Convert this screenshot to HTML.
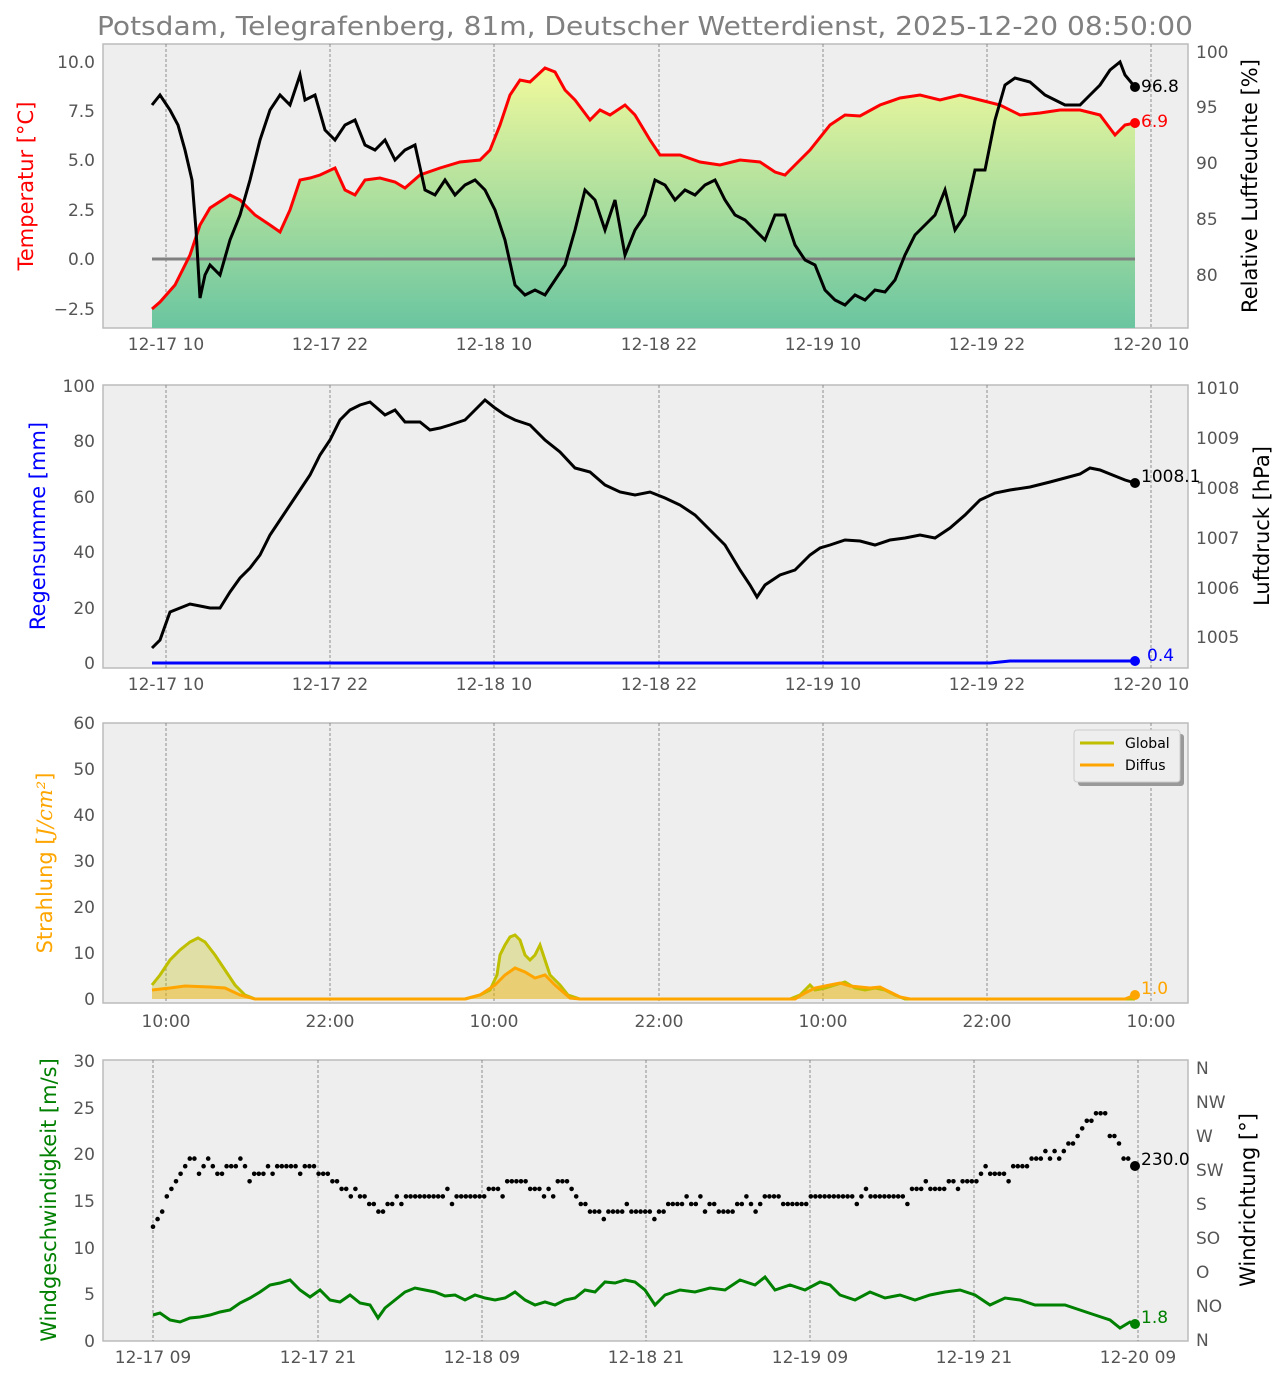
<!DOCTYPE html>
<html><head><meta charset="utf-8"><style>
html,body{margin:0;padding:0;background:#fff;}
svg{display:block;font-family:"DejaVu Sans","Liberation Sans",sans-serif;}
.t{font-size:17px;fill:#555;}
.g{stroke:#777;stroke-width:0.8;stroke-dasharray:3,2;}
</style></head><body>
<svg id="s" width="1288" height="1381" viewBox="0 0 1288 1381">
<defs>
<linearGradient id="tg" gradientUnits="userSpaceOnUse" x1="0" y1="65" x2="0" y2="328">
<stop offset="0" stop-color="#f2fa9c"/><stop offset="1" stop-color="#6ac5a0"/></linearGradient>
</defs>
<text x="97" y="35" textLength="1096" lengthAdjust="spacingAndGlyphs" font-size="26" fill="#808080">Potsdam, Telegrafenberg, 81m, Deutscher Wetterdienst, 2025-12-20 08:50:00</text>

<!-- Panel 1 -->
<rect x="103" y="44" width="1085" height="284" fill="#eeeeee" stroke="#bbb" stroke-width="1.5"/>
<g class="g"><line x1="166" y1="44" x2="166" y2="328"/><line x1="330" y1="44" x2="330" y2="328"/><line x1="494" y1="44" x2="494" y2="328"/><line x1="659" y1="44" x2="659" y2="328"/><line x1="823" y1="44" x2="823" y2="328"/><line x1="987" y1="44" x2="987" y2="328"/><line x1="1151" y1="44" x2="1151" y2="328"/></g>
<polygon fill="url(#tg)" points="152,328 152,309 160,302 175,285 190,255 200,225 210,208 230,195 240,200 255,215 270,225 280,232 290,210 300,180 310,178 320,175 335,168 345,190 355,195 365,180 380,178 395,182 405,188 420,175 440,168 460,162 480,160 490,150 500,125 510,95 520,80 530,82 545,68 555,72 565,90 575,100 590,120 600,110 610,115 625,105 635,115 650,140 660,155 680,155 700,162 720,165 740,160 760,162 775,172 785,175 795,165 810,150 830,125 845,115 860,116 880,105 900,98 920,95 940,100 960,95 980,100 1000,105 1020,115 1040,113 1060,110 1080,110 1100,115 1115,135 1125,125 1135,123 1135,328"/>
<line x1="152" y1="259" x2="1135" y2="259" stroke="#808080" stroke-width="3"/>
<polyline fill="none" stroke="#ff0000" stroke-width="3" points="152,309 160,302 175,285 190,255 200,225 210,208 230,195 240,200 255,215 270,225 280,232 290,210 300,180 310,178 320,175 335,168 345,190 355,195 365,180 380,178 395,182 405,188 420,175 440,168 460,162 480,160 490,150 500,125 510,95 520,80 530,82 545,68 555,72 565,90 575,100 590,120 600,110 610,115 625,105 635,115 650,140 660,155 680,155 700,162 720,165 740,160 760,162 775,172 785,175 795,165 810,150 830,125 845,115 860,116 880,105 900,98 920,95 940,100 960,95 980,100 1000,105 1020,115 1040,113 1060,110 1080,110 1100,115 1115,135 1125,125 1135,123"/>
<polyline fill="none" stroke="#000" stroke-width="3" points="152,105 160,95 170,110 178,125 185,150 192,180 196,230 200,298 205,275 210,265 220,275 230,240 240,215 250,180 260,140 270,110 280,95 290,105 300,75 305,100 315,95 325,130 335,140 345,125 355,120 365,145 375,150 385,140 395,160 405,150 415,145 425,190 435,195 445,180 455,195 465,185 475,180 485,190 495,210 505,240 515,285 525,295 535,290 545,295 555,280 565,265 575,230 585,190 595,200 605,230 615,200 625,255 635,230 645,215 655,180 665,185 675,200 685,190 695,195 705,185 715,180 725,200 735,215 745,220 755,230 765,240 775,215 785,215 795,245 805,260 815,265 825,290 835,300 845,305 855,295 865,300 875,290 885,292 895,280 905,255 915,235 925,225 935,215 945,190 955,230 965,215 975,170 985,170 995,120 1005,85 1015,78 1030,82 1045,95 1055,100 1065,105 1080,105 1090,95 1100,85 1110,70 1120,62 1125,75 1135,87"/>
<circle cx="1135" cy="87" r="5"/><circle cx="1135" cy="123" r="5" fill="#f00"/>
<text x="1141" y="87" font-size="17" dominant-baseline="middle">96.8</text>
<text x="1141" y="122" font-size="17" fill="#f00" dominant-baseline="middle">6.9</text>
<g class="t" text-anchor="end"><text x="95" y="68">10.0</text><text x="95" y="117">7.5</text><text x="95" y="166">5.0</text><text x="95" y="216">2.5</text><text x="95" y="265">0.0</text><text x="95" y="315">−2.5</text></g>
<g class="t"><text x="1196" y="58">100</text><text x="1196" y="113">95</text><text x="1196" y="169">90</text><text x="1196" y="225">85</text><text x="1196" y="281">80</text></g>
<g class="t" text-anchor="middle"><text x="166" y="350">12-17 10</text><text x="330" y="350">12-17 22</text><text x="494" y="350">12-18 10</text><text x="659" y="350">12-18 22</text><text x="823" y="350">12-19 10</text><text x="987" y="350">12-19 22</text><text x="1151" y="350">12-20 10</text></g>
<text transform="translate(33,186) rotate(-90)" text-anchor="middle" font-size="21" fill="#f00">Temperatur [°C]</text>
<text transform="translate(1257,186) rotate(-90)" text-anchor="middle" font-size="21">Relative Luftfeuchte [%]</text>

<!-- Panel 2 -->
<rect x="103" y="385" width="1085" height="283" fill="#eeeeee" stroke="#bbb" stroke-width="1.5"/>
<g class="g"><line x1="166" y1="385" x2="166" y2="668"/><line x1="330" y1="385" x2="330" y2="668"/><line x1="494" y1="385" x2="494" y2="668"/><line x1="659" y1="385" x2="659" y2="668"/><line x1="823" y1="385" x2="823" y2="668"/><line x1="987" y1="385" x2="987" y2="668"/><line x1="1151" y1="385" x2="1151" y2="668"/></g>
<polyline fill="none" stroke="#000" stroke-width="3" points="152,648 160,640 170,612 180,608 190,604 200,606 210,608 220,608 230,592 240,578 250,568 260,555 270,535 280,520 290,505 300,490 310,475 320,455 330,440 340,420 350,410 360,405 370,402 385,415 395,410 405,422 420,422 430,430 440,428 450,425 465,420 475,410 485,400 495,408 505,415 515,420 530,425 545,440 560,452 575,468 590,472 605,485 620,492 635,495 650,492 665,498 680,505 695,515 710,530 725,545 740,570 750,585 757,597 765,585 780,575 795,570 810,555 820,548 830,545 845,540 860,541 875,545 890,540 905,538 920,535 935,538 950,528 965,515 980,500 995,493 1010,490 1030,487 1050,482 1065,478 1080,474 1090,468 1100,470 1115,476 1125,480 1135,483"/>
<polyline fill="none" stroke="#0000ff" stroke-width="3" points="152,663 990,663 1010,661 1135,661"/>
<circle cx="1135" cy="483" r="5"/><circle cx="1135" cy="661" r="5" fill="#00f"/>
<text x="1141" y="477" font-size="17" dominant-baseline="middle">1008.1</text>
<text x="1147" y="656" font-size="17" fill="#00f" dominant-baseline="middle">0.4</text>
<g class="t" text-anchor="end"><text x="95" y="392">100</text><text x="95" y="447">80</text><text x="95" y="503">60</text><text x="95" y="558">40</text><text x="95" y="614">20</text><text x="95" y="669">0</text></g>
<g class="t"><text x="1196" y="394">1010</text><text x="1196" y="444">1009</text><text x="1196" y="494">1008</text><text x="1196" y="544">1007</text><text x="1196" y="594">1006</text><text x="1196" y="643">1005</text></g>
<g class="t" text-anchor="middle"><text x="166" y="690">12-17 10</text><text x="330" y="690">12-17 22</text><text x="494" y="690">12-18 10</text><text x="659" y="690">12-18 22</text><text x="823" y="690">12-19 10</text><text x="987" y="690">12-19 22</text><text x="1151" y="690">12-20 10</text></g>
<text transform="translate(45,526) rotate(-90)" text-anchor="middle" font-size="21" fill="#00f">Regensumme [mm]</text>
<text transform="translate(1269,526) rotate(-90)" text-anchor="middle" font-size="21">Luftdruck [hPa]</text>

<!-- Panel 3 -->
<rect x="103" y="723" width="1085" height="280" fill="#eeeeee" stroke="#bbb" stroke-width="1.5"/>
<g class="g"><line x1="166" y1="723" x2="166" y2="1003"/><line x1="330" y1="723" x2="330" y2="1003"/><line x1="494" y1="723" x2="494" y2="1003"/><line x1="659" y1="723" x2="659" y2="1003"/><line x1="823" y1="723" x2="823" y2="1003"/><line x1="987" y1="723" x2="987" y2="1003"/><line x1="1151" y1="723" x2="1151" y2="1003"/></g>
<polygon fill="#bfbf00" fill-opacity="0.3" points="152,999 152,985 160,975 170,960 180,950 190,942 198,938 205,942 215,955 225,970 235,985 245,995 255,999 465,999 480,995 490,990 497,975 500,955 505,945 510,937 515,935 520,940 525,955 530,960 535,955 540,945 545,960 550,975 560,985 568,995 580,999 790,999 800,995 810,985 815,990 825,988 835,985 845,982 855,988 865,990 875,988 885,990 895,995 905,999"/>
<polygon fill="#ffa500" fill-opacity="0.3" points="152,999 152,990 170,988 185,986 210,987 225,988 240,995 255,999 465,999 480,995 495,985 505,975 515,968 525,972 535,978 545,975 555,985 570,998 580,999 795,999 805,993 815,988 830,985 840,983 850,986 860,987 870,988 880,987 890,992 900,997 910,999"/>
<polyline fill="none" stroke="#bfbf00" stroke-width="3" points="152,985 160,975 170,960 180,950 190,942 198,938 205,942 215,955 225,970 235,985 245,995 255,999 465,999 480,995 490,990 497,975 500,955 505,945 510,937 515,935 520,940 525,955 530,960 535,955 540,945 545,960 550,975 560,985 568,995 580,999 790,999 800,995 810,985 815,990 825,988 835,985 845,982 855,988 865,990 875,988 885,990 895,995 905,999 1135,999"/>
<polyline fill="none" stroke="#ffa500" stroke-width="3" points="152,990 170,988 185,986 210,987 225,988 240,995 255,999 465,999 480,995 495,985 505,975 515,968 525,972 535,978 545,975 555,985 570,998 580,999 795,999 805,993 815,988 830,985 840,983 850,986 860,987 870,988 880,987 890,992 900,997 910,999 1125,999 1135,995"/>
<circle cx="1135" cy="995" r="5" fill="#ffa500"/>
<text x="1141" y="989" font-size="17" fill="#ffa500" dominant-baseline="middle">1.0</text>
<rect x="1078" y="734" width="106" height="52" rx="3" fill="#999"/>
<rect x="1074" y="730" width="106" height="52" rx="3" fill="#eeeeee" stroke="#ccc"/>
<line x1="1080" y1="743" x2="1114" y2="743" stroke="#bfbf00" stroke-width="3"/>
<line x1="1080" y1="765" x2="1114" y2="765" stroke="#ffa500" stroke-width="3"/>
<text x="1125" y="748" font-size="14">Global</text><text x="1125" y="770" font-size="14">Diffus</text>
<g class="t" text-anchor="end"><text x="95" y="729">60</text><text x="95" y="775">50</text><text x="95" y="821">40</text><text x="95" y="867">30</text><text x="95" y="913">20</text><text x="95" y="959">10</text><text x="95" y="1005">0</text></g>
<g class="t" text-anchor="middle"><text x="166" y="1027">10:00</text><text x="330" y="1027">22:00</text><text x="494" y="1027">10:00</text><text x="659" y="1027">22:00</text><text x="823" y="1027">10:00</text><text x="987" y="1027">22:00</text><text x="1151" y="1027">10:00</text></g>
<text transform="translate(52,863) rotate(-90)" text-anchor="middle" font-size="21" fill="#ffa500">Strahlung [<tspan font-style="italic" font-family="DejaVu Serif,serif">J/cm²</tspan>]</text>

<!-- Panel 4 -->
<rect x="103" y="1060" width="1085" height="281" fill="#eeeeee" stroke="#bbb" stroke-width="1.5"/>
<g class="g"><line x1="153" y1="1060" x2="153" y2="1341"/><line x1="318" y1="1060" x2="318" y2="1341"/><line x1="482" y1="1060" x2="482" y2="1341"/><line x1="646" y1="1060" x2="646" y2="1341"/><line x1="810" y1="1060" x2="810" y2="1341"/><line x1="974" y1="1060" x2="974" y2="1341"/><line x1="1138" y1="1060" x2="1138" y2="1341"/></g>
<polyline fill="none" stroke="#008000" stroke-width="3" points="153,1315 160,1313 170,1320 180,1322 190,1318 200,1317 210,1315 220,1312 230,1310 240,1303 250,1298 260,1292 270,1285 280,1283 290,1280 300,1290 310,1297 320,1290 330,1300 340,1302 350,1295 360,1303 370,1305 378,1318 385,1308 395,1300 405,1292 415,1288 425,1290 435,1292 445,1296 455,1295 465,1300 475,1295 485,1298 495,1300 505,1298 515,1292 525,1300 535,1305 545,1302 555,1305 565,1300 575,1298 585,1290 595,1292 605,1282 615,1283 625,1280 635,1282 645,1290 655,1305 665,1295 680,1290 695,1292 710,1288 725,1290 740,1280 755,1285 765,1277 775,1290 790,1285 805,1290 820,1282 830,1285 840,1295 855,1300 870,1292 885,1298 900,1295 915,1300 930,1295 945,1292 960,1290 975,1295 990,1305 1005,1298 1020,1300 1035,1305 1050,1305 1065,1305 1080,1310 1095,1315 1110,1320 1120,1328 1130,1322 1138,1325"/>
<g id="wd"></g>
<circle cx="1135" cy="1166" r="5"/><circle cx="1135" cy="1324" r="5" fill="#008000"/>
<text x="1141" y="1160" font-size="17" dominant-baseline="middle">230.0</text>
<text x="1141" y="1318" font-size="17" fill="#008000" dominant-baseline="middle">1.8</text>
<g class="t" text-anchor="end"><text x="95" y="1067">30</text><text x="95" y="1114">25</text><text x="95" y="1160">20</text><text x="95" y="1207">15</text><text x="95" y="1254">10</text><text x="95" y="1300">5</text><text x="95" y="1347">0</text></g>
<g class="t"><text x="1196" y="1074">N</text><text x="1196" y="1108">NW</text><text x="1196" y="1142">W</text><text x="1196" y="1176">SW</text><text x="1196" y="1210">S</text><text x="1196" y="1244">SO</text><text x="1196" y="1278">O</text><text x="1196" y="1312">NO</text><text x="1196" y="1346">N</text></g>
<g class="t" text-anchor="middle"><text x="153" y="1363">12-17 09</text><text x="318" y="1363">12-17 21</text><text x="482" y="1363">12-18 09</text><text x="646" y="1363">12-18 21</text><text x="810" y="1363">12-19 09</text><text x="974" y="1363">12-19 21</text><text x="1138" y="1363">12-20 09</text></g>
<text transform="translate(56,1200) rotate(-90)" text-anchor="middle" font-size="21" fill="#008000">Windgeschwindigkeit [m/s]</text>
<text transform="translate(1255,1200) rotate(-90)" text-anchor="middle" font-size="21">Windrichtung [°]</text>
</svg>
<script>
(function(){
var k=[[153,1227],[160,1220],[165,1200],[175,1185],[190,1160],[205,1165],[220,1172],[240,1162],[255,1175],[270,1172],[290,1165],[310,1165],[330,1180],[345,1188],[360,1193],[375,1205],[385,1215],[395,1200],[420,1195],[450,1193],[480,1195],[510,1185],[530,1185],[545,1195],[560,1183],[575,1195],[590,1210],[610,1208],[640,1212],[660,1210],[680,1203],[700,1200],[720,1210],[750,1205],[770,1197],[790,1203],[830,1195],[860,1195],[900,1195],[930,1188],[960,1183],[990,1175],[1020,1167],[1050,1155],[1070,1145],[1090,1118],[1100,1112],[1110,1125],[1125,1160],[1135,1165]];
var g=document.getElementById('wd'),s='',i=0,n=0;
for(var x=153;x<=1135;x+=4.6){n++;while(i<k.length-2&&k[i+1][0]<x)i++;var a=k[i],b=k[i+1],t=(x-a[0])/(b[0]-a[0]);t=Math.max(0,Math.min(1,t));var y=a[1]+(b[1]-a[1])*t;
var j=((n*7)%11===0)?7.56:(((n*5)%13===0)?-7.56:0);
y=1204-Math.round((1204-y)/7.56)*7.56+j;
s+='<circle cx="'+x.toFixed(1)+'" cy="'+y.toFixed(1)+'" r="2.3"/>';}
g.innerHTML=s;})();
</script>
</body></html>
